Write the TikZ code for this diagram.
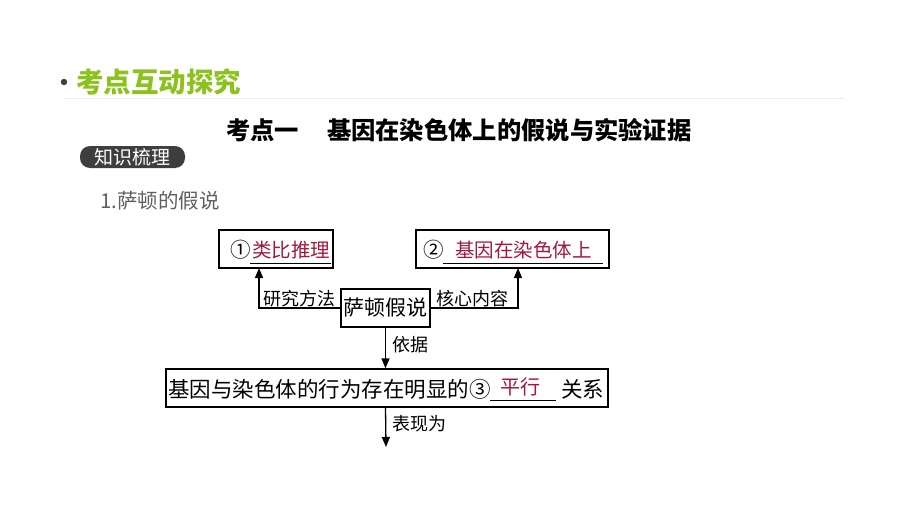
\documentclass[tikz,border=0pt]{standalone}
\usepackage{fontspec}
\newfontfamily\cjk{Noto Sans CJK SC}
\usetikzlibrary{arrows.meta}
\definecolor{titlegreen}{HTML}{8CC21E}
\definecolor{ansred}{HTML}{A3173A}
\definecolor{badgegray}{HTML}{3E3E3E}
\definecolor{subgray}{HTML}{606060}
\begin{document}
\begin{tikzpicture}[x=1pt,y=-1pt,
  box/.style={draw, line width=1.3pt, minimum height=38pt, inner sep=0pt},
  arr/.style={line width=1.3pt, -{Triangle[length=10pt,width=8pt]}},
  lbl/.style={inner sep=0pt, font=\cjk\fontsize{18}{18}\selectfont},
  txt/.style={inner sep=0pt, font=\cjk\fontsize{20.5}{20.5}\selectfont},
  ans/.style={inner sep=0pt, text=ansred, font=\cjk\fontsize{19.5}{19.5}\selectfont},
  uline/.style={line width=1pt}]
\useasboundingbox (0,0) rectangle (920,516);
% header
\fill[badgegray] (64,82) circle (3.2pt);
\node[anchor=west, inner sep=0pt, text=titlegreen, font=\cjk\bfseries\fontsize{27.5}{27.5}\selectfont] (ttl) at (76,82) {考点互动探究};
\draw[gray!15, line width=1pt] (64,99) -- (845,99);
\node[anchor=west, inner sep=0pt, font=\cjk\bfseries\fontsize{24.3}{24.3}\selectfont] (head) at (226,130) {考点一\hspace{1.15em}基因在染色体上的假说与实验证据};
\node[fill=badgegray, rounded corners=10pt, minimum width=105pt, minimum height=22pt, inner sep=0pt, text=white, font=\cjk\fontsize{19}{19}\selectfont] (badge) at (132.5,157) {知识梳理};
\node[anchor=west, inner sep=0pt, text=subgray, font=\cjk\fontsize{20.5}{20.5}\selectfont] (sub) at (100,201) {1.萨顿的假说};
% boxes
\node[box, minimum width=114pt] (b1) at (276,249) {};
\node[box, minimum width=193pt] (b2) at (512.5,249) {};
\node[box, minimum width=89pt, font=\cjk\fontsize{21}{21}\selectfont] (c) at (385.5,308) {萨顿假说};
\node[box, minimum width=442pt] (b3) at (387,388) {};
% box 1 text
\node[txt, anchor=west] (n1) at (230,250) {①};
\node[ans, anchor=west] (a1) at (252,250) {类比推理};
\draw[uline] (250,263) -- (331,263);
% box 2 text
\node[txt, anchor=west] (n2) at (423,250) {②};
\node[ans, anchor=west] (a2) at (455,250) {基因在染色体上};
\draw[uline] (443,263) -- (603,263);
% box 3 text
\node[anchor=west, inner sep=0pt, font=\cjk\fontsize{21.5}{21.5}\selectfont] (t3a) at (168,389) {基因与染色体的行为存在明显的③};
\node[ans, anchor=west, font=\cjk\fontsize{20}{20}\selectfont] (a3) at (500,387) {平行};
\draw[uline] (490,400) -- (556,400);
\node[anchor=west, inner sep=0pt, font=\cjk\fontsize{21.5}{21.5}\selectfont] (t3b) at (561,389) {关系};
% connectors
\coordinate (lt) at (259,268);
\coordinate (rt) at (518,268);
\coordinate (bot) at (386,447);
\draw[arr] (c.west) -| (lt);
\draw[arr] (c.east) -| (rt);
\draw[arr] (c.south) -- (b3.north -| c.south);
\draw[arr] (b3.south -| c.south) -- (bot);
\node[lbl, anchor=west] (l1) at (263,299) {研究方法};
\node[lbl, anchor=west] (l2) at (436,299) {核心内容};
\node[lbl, anchor=west] (l3) at (392,345) {依据};
\node[lbl, anchor=west] (l4) at (392,424) {表现为};
\end{tikzpicture}
\end{document}
